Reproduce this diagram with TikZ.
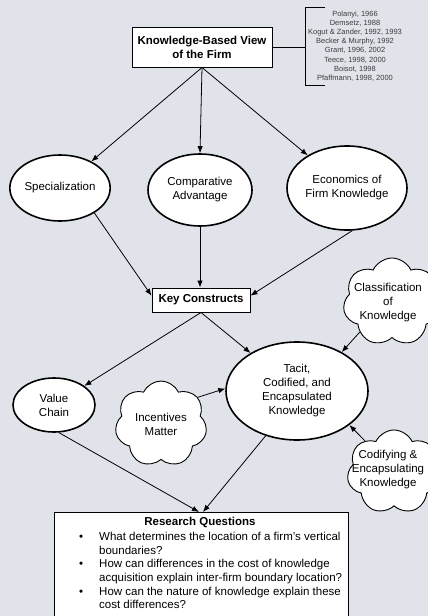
\documentclass[tikz,border=0pt]{standalone}
\usepackage{fontspec}
\setmainfont{Liberation Sans}
\usetikzlibrary{shapes.geometric,shapes.symbols,arrows.meta,calc}
\definecolor{bgc}{RGB}{224,228,234}
\definecolor{refc}{RGB}{60,60,60}
\newcommand\mfs{\fontsize{11.5}{14}\selectfont}
\newcommand\rfs{\fontsize{11.5}{13.6}\selectfont}
\begin{document}
\begin{tikzpicture}[x=1pt,y=-1pt,
  ell/.style={ellipse, draw, line width=1.6pt, fill=white, inner sep=0pt, align=center, font=\mfs},
  boxn/.style={rectangle, draw, line width=1pt, fill=white, inner sep=0pt, align=center, font=\mfs\bfseries},
  cld/.style={cloud, cloud puffs=7, cloud puff arc=130, cloud ignores aspect, draw, line width=0.9pt, fill=white, inner sep=0pt},
  arr/.style={-{Latex[length=7pt,width=5.5pt]}, line width=0.8pt},
  ln/.style={line width=0.8pt}]
\useasboundingbox (0,0) rectangle (428,616);
\clip (0,0) rectangle (428,616);
\fill[bgc] (0,0) rectangle (428,616);

% top box and references
\node[boxn, minimum width=140pt, minimum height=40pt] (kbv) at (202,47) {Knowledge-Based View\\of the Firm};
\node[font=\fontsize{7.5}{9.2}\selectfont, text=refc, align=center, inner sep=0pt] (refs) at (355,46)
  {Polanyi, 1966\\Demsetz, 1988\\Kogut \& Zander, 1992, 1993\\Becker \& Murphy, 1992\\Grant, 1996, 2002\\Teece, 1998, 2000\\Boisot, 1998\\Pfaffmann, 1998, 2000};
\coordinate (bt) at (305,7);
\coordinate (bb) at (305,85);
\coordinate (btr) at (325,7);
\coordinate (bbr) at (325,85);
\draw[ln] (btr) -- (bt) -- (bb) -- (bbr);
\draw[ln] (kbv.east) -- (kbv.east -| bt);

% ellipses
\node[ell, minimum width=100pt, minimum height=66pt] (spec) at (60,188) {Specialization};
\node[ell, minimum width=104pt, minimum height=72pt] (comp) at (200,190) {Comparative\\Advantage};
\node[ell, minimum width=120pt, minimum height=84pt] (econ) at (347,188) {Economics of\\Firm Knowledge};
\node[boxn, minimum width=98pt, minimum height=24pt] (key) at (201,300) {Key Constructs};
\node[ell, minimum width=142pt, minimum height=98pt] (tacit) at (297,391) {Tacit,\\Codified, and\\Encapsulated\\Knowledge};
\node[ell, minimum width=82pt, minimum height=54pt] (value) at (54,405) {Value\\Chain};

% clouds
\node[cld, minimum width=92pt, minimum height=86pt] (inc) at (161,424) {};
\node[font=\mfs, align=center, inner sep=0pt] (inct) at (inc.center) {Incentives\\Matter};
\node[cld, minimum width=98pt, minimum height=88pt] (cls) at (392,302) {};
\node[font=\mfs, align=center, inner sep=0pt] (clst) at (388,303) {Classification\\of\\Knowledge};
\node[cld, minimum width=94pt, minimum height=84pt] (cod) at (394,472) {};
\node[font=\mfs, align=center, inner sep=0pt] (codt) at (388,470) {Codifying \&\\Encapsulating\\Knowledge};

% research questions
\node[draw, fill=white, line width=1pt, minimum width=294pt, minimum height=120pt, anchor=north] (rq) at (201,512) {};
\node[font=\mfs\bfseries, anchor=north, inner sep=0pt] (rqh) at (200,517) {Research Questions};
\node[font=\rfs, anchor=north west, inner sep=0pt] (rql) at (79,531) {%
\begin{tabular}{@{}p{20pt}@{}l@{}}
\textbullet & What determines the location of a firm’s vertical\\
 & boundaries?\\
\textbullet & How can differences in the cost of knowledge\\
 & acquisition explain inter-firm boundary location?\\
\textbullet & How can the nature of knowledge explain these\\
 & cost differences?
\end{tabular}};

% connectors
\draw[arr] (kbv.south) -- (spec);
\draw[arr] (kbv.south) -- (comp.north);
\draw[arr] (kbv.south) -- (econ);
\draw[arr] (spec.-36) -- (key.175);
\draw[arr] (comp.south) -- (comp.south |- key.north);
\draw[arr] (econ.-83) -- (key.5);
\draw[arr] (key.south) -- (tacit);
\draw[arr] (key.south) -- (value);
\draw[arr] (cls.-137) -- (tacit.41);
\draw[arr] (cod.133) -- (tacit.-33);
\draw[arr] (inc.36) -- (tacit.178);
\draw[arr] (value.-80) -- ($(rq.north)+(-2,0)$);
\draw[arr] (tacit.-125) -- ($(rq.north)+(2,0)$);
\end{tikzpicture}
\end{document}
